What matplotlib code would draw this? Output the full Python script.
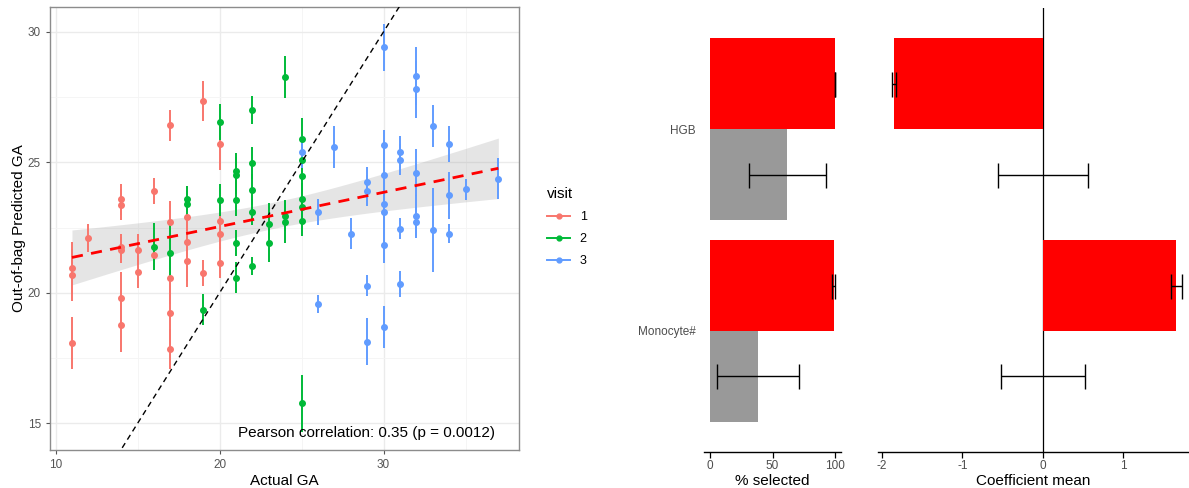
import numpy as np
import matplotlib
matplotlib.use('Agg')
import matplotlib.pyplot as plt
from matplotlib.lines import Line2D

plt.rcParams['font.family'] = ['Liberation Sans', 'DejaVu Sans']
plt.rcParams['axes.unicode_minus'] = False

# ---- scatter data: actual GA vs out-of-bag predicted GA (mean +/- error) ----
visit1_x = [11, 11, 11, 12, 14, 14, 14, 14, 14, 14, 15, 15, 16, 16, 17, 17, 17, 17, 17,
            18, 18, 18, 19, 19, 20, 20, 20, 20]
visit1_y = [20.96, 20.69, 18.08, 22.1, 23.58, 23.38, 21.77, 21.65, 19.8, 18.75, 21.65, 20.8,
            23.9, 21.46, 26.42, 22.73, 20.58, 19.23, 17.85, 22.9, 21.96, 21.23, 27.35, 20.77,
            25.69, 22.77, 22.27, 21.15]
visit1_err = [1.0, 1.0, 1.0, 0.55, 0.6, 0.6, 0.5, 0.5, 1.0, 1.0, 0.6, 0.6, 0.5, 0.6, 0.6, 0.8,
              1.0, 1.3, 0.75, 1.2, 1.5, 1.0, 0.75, 0.5, 1.0, 0.8, 0.6, 0.6]

visit2_x = [16, 17, 18, 18, 19, 20, 20, 21, 21, 21, 21, 21, 22, 22, 22, 22, 22, 23, 23,
            24, 24, 24, 25, 25, 25, 25, 25, 25, 25]
visit2_y = [21.77, 21.54, 23.58, 23.42, 19.35, 26.54, 23.56, 24.65, 24.5, 23.54, 21.9, 20.58,
            27.0, 24.97, 23.95, 23.1, 21.04, 22.65, 21.9, 28.27, 22.96, 22.7, 25.9, 25.1,
            24.46, 23.6, 23.3, 22.77, 15.77]
visit2_err = [0.9, 1.1, 0.5, 0.5, 0.6, 0.7, 0.6, 0.7, 0.7, 0.6, 0.5, 0.6, 0.55, 0.6, 0.6, 0.5,
              0.35, 0.8, 0.7, 0.8, 0.6, 0.8, 0.8, 0.8, 0.6, 0.6, 0.6, 0.6, 1.1]

visit3_x = [25, 26, 26, 27, 28, 29, 29, 29, 29, 30, 30, 30, 30, 30, 30, 30, 31, 31, 31, 31,
            32, 32, 32, 32, 32, 33, 33, 34, 34, 34, 35, 37]
visit3_y = [25.4, 23.1, 19.58, 25.6, 22.27, 24.23, 23.92, 20.27, 18.12, 29.4, 25.65, 24.5,
            23.42, 23.08, 21.85, 18.7, 25.4, 25.1, 22.46, 20.35, 28.3, 27.8, 24.6, 22.96, 22.7,
            26.4, 22.4, 25.7, 23.73, 22.27, 23.96, 24.38]
visit3_err = [0.6, 0.5, 0.35, 0.8, 0.6, 0.6, 0.6, 0.4, 0.9, 0.9, 0.6, 1.0, 1.2, 1.2, 0.7, 0.8,
              0.6, 0.6, 0.4, 0.5, 1.1, 1.1, 0.9, 0.8, 0.6, 0.8, 1.6, 0.7, 0.9, 0.35, 0.4, 0.8]

visit_labels = ['1', '2', '3']
visit_colors = ['#F8766D', '#00BA38', '#619CFF']
corr_text = 'Pearson correlation: 0.35 (p = 0.0012)'

# ---- feature panels ----
features = ['Monocyte#', 'HGB']
pct_selected = [99.2, 100.0]
pct_selected_err = [1.2, 0.0]
pct_selected_null = [38.5, 61.8]
pct_selected_null_err = [33.0, 31.0]
coef_mean = [1.66, -1.85]
coef_mean_err = [0.07, 0.025]
coef_mean_null = [0.005, 0.0]
coef_mean_null_err = [0.525, 0.56]

W, H = 1189, 488
fig = plt.figure(figsize=(W / 100, H / 100), dpi=100)

# ================= scatter panel =================
ax = fig.add_axes([50 / W, 38 / H, 469 / W, 443 / H])
xs = [visit1_x, visit2_x, visit3_x]
ys = [visit1_y, visit2_y, visit3_y]
es = [visit1_err, visit2_err, visit3_err]

ax.set_xlim(9.66, 38.26)
ax.set_ylim(13.98, 30.95)
ax.set_xticks([10, 20, 30])
ax.set_yticks([15, 20, 25, 30])
ax.set_xticks([15, 25, 35], minor=True)
ax.set_yticks([17.5, 22.5, 27.5], minor=True)
ax.grid(which='major', color='#EBEBEB', lw=1.0)
ax.grid(which='minor', color='#F4F4F4', lw=0.6)
ax.set_axisbelow(True)

# linear fit with 95% band
all_x = np.concatenate([np.array(v, float) for v in xs])
all_y = np.concatenate([np.array(v, float) for v in ys])
slope, intercept = np.polyfit(all_x, all_y, 1)
n = len(all_x)
resid = all_y - (slope * all_x + intercept)
s = np.sqrt(np.sum(resid ** 2) / (n - 2))
sxx = np.sum((all_x - all_x.mean()) ** 2)
gx = np.linspace(all_x.min(), all_x.max(), 100)
gy = slope * gx + intercept
se = s * np.sqrt(1 / n + (gx - all_x.mean()) ** 2 / sxx)
ax.fill_between(gx, gy - 1.99 * se, gy + 1.99 * se, color='#999999', alpha=0.25, lw=0, zorder=1)

for x, y, e, c in zip(xs, ys, es, visit_colors):
    ax.errorbar(x, y, yerr=e, fmt='o', color=c, ms=4, elinewidth=1.4, capsize=0, zorder=2)

ax.plot([0, 40], [0, 40], color='black', lw=1.0, ls=(0, (4, 3)), zorder=3)
ax.plot(gx, gy, color='#FF0000', lw=2.0, ls=(0, (4, 3)), zorder=4)

ax.text(0.949, 0.038, corr_text, transform=ax.transAxes, ha='right', va='center',
        fontsize=11, color='black')

for sp in ax.spines.values():
    sp.set_color('#8C8C8C')
    sp.set_linewidth(1.0)
ax.tick_params(which='major', length=3, width=0.8, color='#555555', labelcolor='#555555',
               labelsize=8.5)
ax.tick_params(which='minor', length=0)
ax.set_xlabel('Actual GA', fontsize=11, labelpad=2)
ax.set_ylabel('Out-of-bag Predicted GA', fontsize=11, labelpad=1)

handles = [Line2D([], [], color=c, marker='o', ms=3.5, lw=1.4) for c in visit_colors]
fig.legend(handles, visit_labels, title='visit', loc='upper left',
           bbox_to_anchor=(536 / W, 1 - 176 / H), frameon=False, fontsize=9,
           title_fontsize=11, handlelength=1.8, labelspacing=0.8, alignment='left')

# ================= feature panels =================
pos = np.arange(1, len(features) + 1)
bar_h = 0.45
red = '#FF0000'
grey = '#999999'


def style_panel(a):
    for k in ['top', 'right', 'left']:
        a.spines[k].set_visible(False)
    a.spines['bottom'].set_color('black')
    a.spines['bottom'].set_linewidth(1.0)
    a.tick_params(axis='x', length=4, width=0.9, color='black', labelcolor='#4D4D4D',
                  labelsize=8.5, pad=2)
    a.tick_params(axis='y', length=0, labelcolor='#4D4D4D', labelsize=8.5, pad=6)
    a.set_ylim(0.4, 2.6)


ax1 = fig.add_axes([704 / W, 36 / H, 137 / W, 444 / H])
ax1.barh(pos + bar_h / 2, pct_selected, height=bar_h, color=red)
ax1.barh(pos - bar_h / 2, pct_selected_null, height=bar_h, color=grey)
ax1.errorbar(pct_selected, pos + bar_h / 2, xerr=pct_selected_err, fmt='none', ecolor='black',
             elinewidth=1.0, capsize=9, capthick=1.0)
ax1.errorbar(pct_selected_null, pos - bar_h / 2, xerr=pct_selected_null_err, fmt='none',
             ecolor='black', elinewidth=1.0, capsize=9, capthick=1.0)
ax1.set_xlim(-5, 105)
ax1.set_xticks([0, 50, 100])
ax1.set_yticks(pos)
ax1.set_yticklabels(features)
style_panel(ax1)
ax1.set_xlabel('% selected', fontsize=11, labelpad=1)

ax2 = fig.add_axes([878 / W, 36 / H, (W - 878) / W, 444 / H])
ax2.axvline(0, color='black', lw=0.9, zorder=0)
ax2.barh(pos + bar_h / 2, coef_mean, height=bar_h, color=red, zorder=1)
ax2.barh(pos - bar_h / 2, coef_mean_null, height=bar_h, color=grey, zorder=1)
ax2.errorbar(coef_mean, pos + bar_h / 2, xerr=coef_mean_err, fmt='none', ecolor='black',
             elinewidth=1.0, capsize=9, capthick=1.0, zorder=2)
ax2.errorbar(coef_mean_null, pos - bar_h / 2, xerr=coef_mean_null_err, fmt='none',
             ecolor='black', elinewidth=1.0, capsize=9, capthick=1.0, zorder=2)
ax2.set_xlim(-2.05, 1.82)
ax2.set_xticks([-2, -1, 0, 1])
ax2.set_yticks([])
style_panel(ax2)
ax2.set_xlabel('Coefficient mean', fontsize=11, labelpad=1)

fig.savefig('out.png', dpi=100)
